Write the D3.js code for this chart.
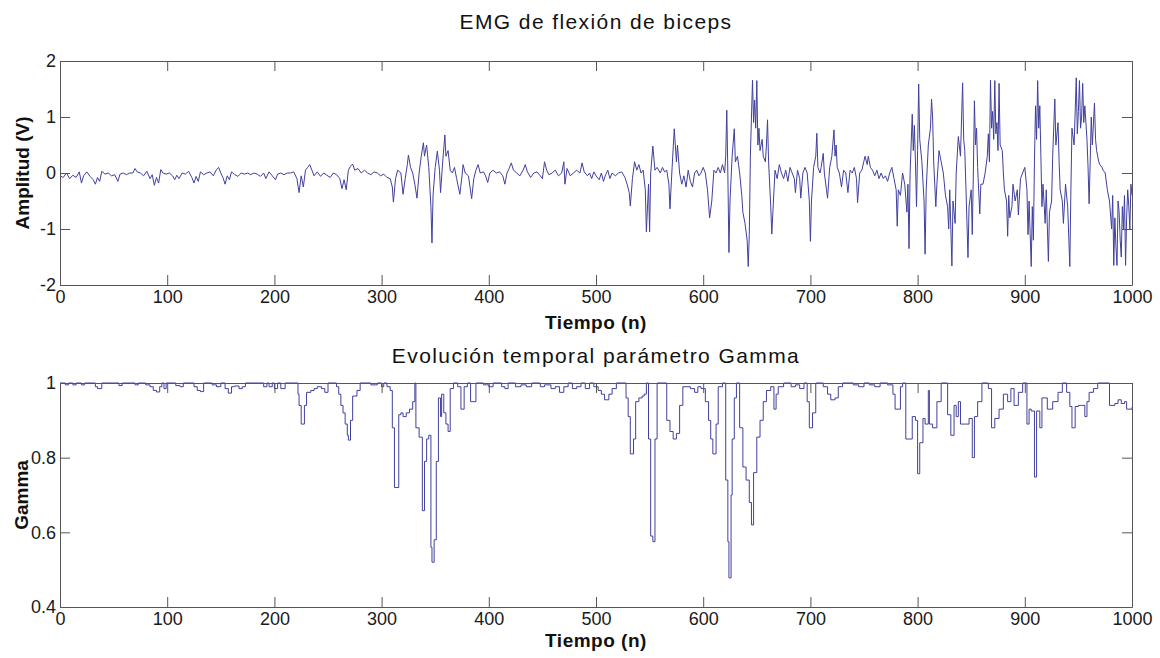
<!DOCTYPE html>
<html>
<head>
<meta charset="utf-8">
<title>EMG gamma</title>
<script src="https://cdn.jsdelivr.net/npm/d3@7"></script>
<style>
  body { margin: 0; background: #fff; }
  svg { font-family: "Liberation Sans", Arial, sans-serif; }
  .axis text { font-size: 18px; fill: #1a1a1a; }
  .axis path, .axis line { stroke: #555; }
</style>
</head>
<body>
<svg width="1160" height="658"></svg>
<script>
// EMG samples (n, amplitud V)
const emgN = [0,3,6,9,12,15,18,20,22,25,28,31,33,35,37,39,42,45,48,51,54,56,59,62,65,68,70,72,75,78,81,84,86,88,90,92,94,96,99,
  102,105,107,109,111,114,117,120,123,125,127,129,131,134,137,140,143,146,148,150,152,154,156,158,160,163,166,169,172,175,178,181,184,187,190,192,195,198,
  201,203,206,209,212,215,218,221,223,225,227,229,231,233,235,237,240,243,246,249,252,255,258,261,263,265,267,269,271,273,275,278,281,284,287,290,293,296,299,
  302,305,308,310,311,313,315,318,320,322,324,325,327,329,331,333,335,337,339,340,342,344,346,347,348,350,352,354,355,357,359,360,362,364,366,368,370,373,375,376,378,381,384,386,388,390,392,395,397,399,
  401,404,407,410,413,415,417,419,421,423,426,429,432,434,436,439,442,445,448,450,452,454,456,459,462,465,468,470,471,473,476,479,482,485,487,489,492,494,496,498,
  500,503,505,507,509,511,513,515,518,521,524,527,529,531,532,534,536,538,540,542,544,546,547,549,550,551,553,555,557,560,562,564,566,568,569,571,573,575,576,578,580,582,584,586,588,590,592,594,596,598,
  600,602,604,606,608,610,612,614,616,618,620,621,622,623,624,625,627,629,630,632,634,636,637,639,641,642,643,644,646,647,648,649,650,651,652,653,655,656,658,659,660,661,663,664,665,667,669,671,673,675,677,679,681,683,685,686,688,690,691,693,695,697,699,
  700,701,703,705,706,707,709,710,712,713,715,716,718,720,722,723,724,725,727,729,731,733,735,737,739,741,743,744,746,748,751,753,754,756,758,760,762,764,766,768,770,772,774,776,778,780,781,782,784,786,788,790,791,792,793,795,796,797,798,799,
  800,801,802,804,806,807,808,810,812,813,814,815,817,818,820,822,824,826,828,829,830,832,833,835,836,838,840,842,843,844,845,847,848,850,851,852,853,854,855,856,858,859,861,863,865,866,867,868,869,870,871,872,873,874,875,876,877,879,880,881,883,884,885,886,888,889,891,893,894,896,898,
  900,902,903,904,906,907,908,909,910,911,912,913,914,915,916,917,919,920,922,923,925,926,928,929,931,932,933,935,936,938,940,942,943,944,946,948,949,950,951,952,953,954,955,956,958,959,960,961,962,963,965,966,967,969,970,972,973,975,977,979,981,982,983,984,985,986,987,988,989,990,991,992,993,994,995,996,997,998,999,1000];
const emgV = [-0.05,-0.08,0,-0.1,-0.04,-0.08,0.02,-0.18,-0.05,0.02,-0.06,-0.12,-0.2,-0.08,-0.15,0.03,-0.02,0,-0.05,-0.03,-0.15,-0.02,0,-0.03,0,0,0.08,0.02,0,-0.05,0.03,-0.1,-0.03,-0.22,-0.08,-0.18,0.06,0,-0.02,
  0,-0.05,-0.12,-0.04,-0.1,0,-0.02,0.03,-0.08,-0.18,-0.06,-0.15,0.02,-0.03,0,0.02,-0.05,0.06,0.1,0,-0.08,-0.2,-0.05,-0.12,0.02,-0.03,-0.06,0,-0.02,0,-0.03,0,-0.02,-0.06,0,-0.1,0.02,-0.05,
  -0.12,-0.02,0,-0.03,0,0,0.02,-0.1,-0.35,-0.05,-0.25,0.05,0.1,0.15,0.05,-0.05,0.02,-0.06,0,-0.04,-0.08,0,-0.03,-0.1,-0.28,-0.12,-0.3,0.05,0.12,0.16,0.05,0.08,0,0.05,0,-0.03,0.02,0,-0.05,
  -0.02,-0.08,-0.1,-0.25,-0.52,-0.1,0.05,0,-0.38,-0.1,0.15,0.32,0.1,0,-0.2,-0.45,0,0.3,0.54,0.3,0.5,0.1,-0.6,-1.25,-0.4,0.1,0.39,0.05,-0.35,0.2,0.68,0.3,0.4,0.05,0,0.1,-0.1,-0.38,-0.05,0.15,0,-0.05,-0.46,-0.1,0.05,0.15,0,0.02,-0.05,-0.17,
  0,0.05,0,0.02,-0.05,-0.2,0,0.08,0.18,0.05,0,-0.05,0.05,0.15,0.02,-0.08,0,0.02,-0.05,-0.1,0.2,0.05,-0.03,0,0.05,-0.05,0,0.2,-0.2,0.08,-0.05,0,0.05,0,0.18,0.02,-0.05,0,-0.1,0.02,
  -0.05,-0.12,0,-0.15,-0.03,0.05,-0.1,0,-0.05,0,0.02,-0.08,-0.2,-0.35,-0.59,-0.1,0.2,0.05,0.15,0,0.05,-0.3,-1.05,-0.2,-1.05,0,0.48,0.05,0.1,0,0.1,0.02,0.05,-0.2,-0.64,0.1,0.79,0.2,0.5,0,-0.2,-0.05,-0.25,0.05,-0.15,-0.25,0,0.05,-0.05,0,
  0.1,0,-0.3,-0.8,-0.5,0.05,0,0.1,0,0.15,0,0.3,1.12,0,-1.42,-0.5,0.3,0.79,0.2,0.3,0,-0.4,-0.7,-0.9,-1.2,-1.67,-1.1,0.3,1.66,0.9,1.3,0.8,1.65,0.5,0.8,0.4,0.6,0.3,0.2,0.5,0.95,0.2,-0.6,-1.09,-0.7,0.05,-0.1,0.15,0,-0.1,0.05,-0.15,0.1,0,-0.1,-0.35,0.05,-0.1,-0.45,0,0.1,0,-0.5,
  -1.22,-0.5,0.1,0.3,0.71,0.1,0,0.1,0.35,0,-0.3,-0.45,0.1,0.3,0.77,0.3,0.5,0.1,0,-0.25,0.05,0,-0.35,0.05,0,0.1,-0.1,-0.53,0,0.05,0.3,0.15,0.3,0.1,0.05,-0.05,0.05,-0.1,0,-0.1,-0.05,-0.15,0,0.1,-0.1,-0.3,-0.95,-0.3,-0.4,0,-0.2,-0.7,-0.2,-1.35,0,1.05,0.4,0.85,0.2,-0.6,
  0.4,1.59,0.6,0.2,-0.5,-1.45,-0.3,0.5,0.8,1.32,1,0.2,-0.6,-0.2,0.4,0.2,0,-0.4,-0.6,-1,-0.3,-1.66,-0.5,-0.9,0,0.65,0.3,1.61,0.6,0.4,-0.2,-1.51,-0.6,-0.3,-1.1,0,1.29,0.5,0.8,0.1,-0.73,-0.2,-0.2,0,0.3,0.7,0.2,1.66,0.8,1.1,0.6,1.65,0.7,0.9,0.4,1.6,0.5,0.4,0,-0.3,-0.5,-1.13,-0.4,-0.8,-0.6,-0.2,-0.5,-0.3,-0.75,-0.1,0,
  0.1,-0.3,-1.1,-0.5,-1.67,-0.6,-1.2,0.2,1.2,0.6,1.65,0.8,1.2,0.3,-0.6,-0.2,-0.9,-0.3,-1.58,-0.7,-0.5,0.3,1.32,0.5,0.9,0.2,-0.3,-0.5,-0.9,-0.2,-0.6,-1.67,-0.3,0.8,0.5,1.7,0.7,1.1,1.65,0.8,1,1.6,0.9,1.2,0.6,0.1,-0.55,0.2,1,0.5,1.25,0.6,0.4,0.2,0.15,0.1,0.05,0,-0.3,-0.5,-1,-0.4,-1.65,-0.8,-1.3,-1.65,-0.5,-0.7,-1.2,-1.5,-0.6,-1,-0.4,-1.65,-0.8,-0.3,-0.6,-1,-0.2,-0.4];

// Gamma (n, valor), escalonado
const gammaN = [0,5,8,12,15,20,23,33,35,39,55,58,70,73,80,84,87,90,93,95,97,99,108,112,115,125,128,131,134,142,146,150,154,157,160,163,167,170,173,190,193,195,198,
  200,203,206,210,222,223,225,228,230,234,237,240,244,247,250,258,260,262,264,266,268,269,271,273,277,280,290,296,
  300,302,305,308,310,312,316,318,320,323,326,329,331,332,335,338,340,342,344,346,347,349,351,353,355,356,358,360,362,364,367,371,374,377,380,383,388,395,
  400,404,412,415,418,425,430,435,440,448,452,458,462,466,470,474,478,482,486,490,494,498,
  502,505,508,512,515,519,528,530,532,535,537,540,543,545,547,549,551,553,555,557,566,569,572,575,578,581,588,592,595,598,
  602,605,607,609,612,614,618,621,623,624,626,627,629,631,634,637,640,643,645,647,650,653,656,659,663,666,668,670,675,682,686,690,694,697,699,
  702,705,712,716,719,723,726,730,740,745,750,755,760,765,772,777,779,784,786,789,795,798,
  800,802,805,807,810,811,814,818,822,828,831,834,836,838,840,845,848,851,853,856,860,866,869,872,876,880,884,887,890,894,898,
  902,904,906,909,911,914,916,921,926,931,935,939,942,944,947,950,953,956,958,960,964,968,979,984,987,990,993,995,1000];
const gammaV = [1,0.995,1,0.995,1,0.995,1,0.99,0.985,1,0.993,1,0.995,1,0.995,0.99,0.98,0.976,0.99,1,0.985,1,0.993,0.99,1,0.99,0.98,0.977,1,0.995,0.99,1,0.985,0.973,0.99,0.992,0.985,0.99,1,0.99,1,0.99,1,
  0.985,1,0.985,1,0.97,0.94,0.89,0.94,0.975,0.98,0.985,0.99,0.985,0.975,1,0.99,0.97,0.94,0.92,0.89,0.86,0.847,0.9,0.965,0.98,1,0.995,1,
  0.99,1,0.99,0.98,0.88,0.72,0.915,0.92,0.91,0.92,0.93,0.95,1,0.88,0.855,0.658,0.79,0.85,0.86,0.56,0.52,0.58,0.79,0.96,0.91,0.97,0.92,0.89,0.87,0.985,1,0.99,0.93,0.99,1,0.95,1,0.995,
  0.99,1,0.99,0.985,1,0.99,0.995,0.99,1,0.99,0.995,0.985,0.99,0.975,0.99,1,0.985,0.99,1,0.985,1,0.99,
  0.98,0.97,0.955,0.97,0.985,1,0.96,0.91,0.81,0.85,0.95,0.96,0.965,0.97,1,0.85,0.59,0.575,0.85,1,0.9,0.87,0.85,0.865,0.94,0.99,0.985,0.975,0.99,0.985,
  0.95,0.9,0.85,0.81,0.89,0.99,1,0.74,0.575,0.478,0.7,0.85,0.96,1,0.88,0.775,0.74,0.68,0.62,0.76,0.855,0.9,0.95,0.98,0.99,0.93,0.97,0.99,1,0.99,0.995,0.985,1,0.95,0.88,
  0.92,1,0.99,0.97,0.955,0.96,0.99,1,0.995,0.99,1,0.995,0.99,1,0.995,0.97,0.93,0.99,1,0.85,0.91,0.9,
  0.757,0.84,0.905,0.89,0.98,0.89,0.88,0.95,1,0.915,0.86,0.94,0.91,0.95,0.89,0.89,0.905,0.8,0.91,0.95,1,0.985,0.88,0.905,0.93,0.97,0.95,0.985,0.94,0.975,1,
  0.89,0.93,0.925,0.748,0.925,0.88,0.96,0.93,0.95,0.975,1,0.975,0.937,0.88,0.937,0.94,0.94,0.91,0.95,0.975,0.985,1,0.94,0.945,0.955,0.945,0.95,0.93,0.935];

const xTicks = [0,100,200,300,400,500,600,700,800,900,1000];
const emgTicks = [-2,-1,0,1,2];
const gammaTicks = [0.4,0.6,0.8,1];

const lineColor = "#40409e";
const svg = d3.select("svg");
const left = 60, right = 1132;

function panel(top, bottom, yDomain, yTicks, yFmt, title, titleY, yLabel, yLabelX, xLabelY, pts, curve) {
  const x = d3.scaleLinear().domain([0, 1000]).range([left, right]);
  const y = d3.scaleLinear().domain(yDomain).range([bottom, top]);
  const g = svg.append("g");

  g.append("path")
    .datum(pts)
    .attr("fill", "none")
    .attr("stroke", lineColor)
    .attr("stroke-width", 1)
    .attr("d", d3.line().x(d => x(d[0])).y(d => y(d[1])).curve(curve));

  // caja estilo matlab, ticks hacia dentro en los 4 lados
  g.append("g").attr("class", "axis").attr("transform", `translate(0,${bottom})`)
    .call(d3.axisBottom(x).tickValues(xTicks).tickSizeInner(-10).tickSizeOuter(0).tickPadding(3).tickFormat(d => String(d)))
    .selectAll("text").attr("dy", "0.85em");
  g.append("g").attr("class", "axis").attr("transform", `translate(0,${top})`)
    .call(d3.axisTop(x).tickValues(xTicks).tickSizeInner(-10).tickSizeOuter(0).tickFormat(""));
  g.append("g").attr("class", "axis").attr("transform", `translate(${left},0)`)
    .call(d3.axisLeft(y).tickValues(yTicks).tickSizeInner(-10).tickSizeOuter(0).tickPadding(4).tickFormat(yFmt));
  g.append("g").attr("class", "axis").attr("transform", `translate(${right},0)`)
    .call(d3.axisRight(y).tickValues(yTicks).tickSizeInner(-10).tickSizeOuter(0).tickFormat(""));
  g.selectAll(".axis .tick line").attr("stroke", "#555");

  svg.append("text").attr("x", (left + right) / 2).attr("y", titleY)
    .attr("text-anchor", "middle").attr("font-size", 21).attr("letter-spacing", 1.4)
    .attr("fill", "#111").text(title);
  svg.append("text").attr("x", (left + right) / 2).attr("y", xLabelY)
    .attr("text-anchor", "middle").attr("font-size", 19).attr("letter-spacing", 0.5)
    .attr("font-weight", "bold").attr("fill", "#111").text("Tiempo (n)");
  svg.append("text").attr("transform", `translate(${yLabelX},${(top + bottom) / 2}) rotate(-90)`)
    .attr("text-anchor", "middle").attr("font-size", 19).attr("font-weight", "bold")
    .attr("fill", "#111").text(yLabel);
}

const emgPts = emgN.map((n, i) => [n, emgV[i]]);
const gammaPts = gammaN.map((n, i) => [n, gammaV[i]]);

panel(61, 285, [-2, 2], emgTicks, d => String(d), "EMG de flexión de biceps", 29, "Amplitud (V)", 29, 329, emgPts, d3.curveLinear);
panel(383, 607, [0.4, 1], gammaTicks, d => d === 1 ? "1" : d3.format(".1f")(d), "Evolución temporal parámetro Gamma", 363, "Gamma", 28, 647, gammaPts, d3.curveStepAfter);
</script>
</body>
</html>
